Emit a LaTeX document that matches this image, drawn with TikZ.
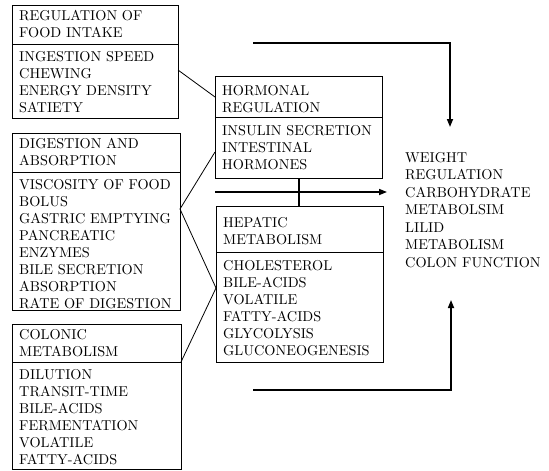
\documentclass[tikz,border=0pt]{standalone}
\usepackage{fontspec}
\setmainfont{lmroman10-regular.otf}
\usetikzlibrary{arrows.meta}
\begin{document}
\begin{tikzpicture}[x=1pt,y=-1pt,
  box/.style={draw, line width=0.9pt, anchor=north west, inner sep=0pt, outer sep=0pt},
  divider/.style={line width=0.9pt},
  txt/.style={anchor=north west, inner sep=0pt, align=left, font=\fontsize{14.3}{17}\selectfont},
  outtxt/.style={anchor=north west, inner sep=0pt, align=left, font=\fontsize{14.3}{17.5}\selectfont},
  lnk/.style={line width=0.8pt},
  flow/.style={line width=1.6pt, -{Triangle[length=8pt,width=6pt]}},
]
\useasboundingbox (0,0) rectangle (549,471);
\fill[white] (0,0) rectangle (549,471);

% left boxes
\node[box, minimum width=166pt, minimum height=113pt] (b1) at (12,5) {};
\draw[divider] (b1.west |- 0,44) -- (b1.east |- 0,44);
\node[txt] (b1h) at (19,10) {REGULATION OF\\FOOD INTAKE};
\node[txt] (b1b) at (19,51) {INGESTION SPEED\\CHEWING\\ENERGY DENSITY\\SATIETY};

\node[box, minimum width=168pt, minimum height=177pt] (b2) at (12,133) {};
\draw[divider] (b2.west |- 0,172) -- (b2.east |- 0,172);
\node[txt] (b2h) at (19,138) {DIGESTION AND\\ABSORPTION};
\node[txt] (b2b) at (19,179) {VISCOSITY OF FOOD\\BOLUS\\GASTRIC EMPTYING\\PANCREATIC\\ENZYMES\\BILE SECRETION\\ABSORPTION\\RATE OF DIGESTION};

\node[box, minimum width=169pt, minimum height=145pt] (b3) at (12,324) {};
\draw[divider] (b3.west |- 0,362) -- (b3.east |- 0,362);
\node[txt] (b3h) at (19,329) {COLONIC\\METABOLISM};
\node[txt] (b3b) at (19,369) {DILUTION\\TRANSIT-TIME\\BILE-ACIDS\\FERMENTATION\\VOLATILE\\FATTY-ACIDS};

% middle boxes
\node[box, minimum width=167pt, minimum height=102pt] (hr) at (215,76) {};
\draw[divider] (hr.west |- 0,117) -- (hr.east |- 0,117);
\node[txt] (hrh) at (222,85) {HORMONAL\\REGULATION};
\node[txt] (hrb) at (222,125) {INSULIN SECRETION\\INTESTINAL\\HORMONES};

\node[box, minimum width=167pt, minimum height=156pt] (hp) at (216,206) {};
\draw[divider] (hp.west |- 0,252) -- (hp.east |- 0,252);
\node[txt] (hph) at (223,217) {HEPATIC\\METABOLISM};
\node[txt] (hpb) at (223,260) {CHOLESTEROL\\BILE-ACIDS\\VOLATILE\\FATTY-ACIDS\\GLYCOLYSIS\\GLUCONEOGENESIS};

% outcome text
\node[outtxt] (out) at (405,152) {WEIGHT\\REGULATION\\CARBOHYDRATE\\METABOLSIM\\LILID\\METABOLISM\\COLON FUNCTION};

% connectors
\draw[lnk] (b1.east |- 0,70) -- (hr.west |- 0,97);
\draw[lnk] (b2.east |- 0,209) -- (hr.west |- 0,152);
\draw[lnk] (b2.east |- 0,209) -- (hp.west |- 0,288);
\draw[lnk] (b3.east |- 0,362) -- (hp.west |- 0,288);
\draw[line width=1.3pt] (hr.south -| 299,0) -- (hp.north -| 299,0);

\coordinate (midtip) at (387,192);
\draw[flow] (hr.west |- 0,192) -- (midtip);

\coordinate (topstart) at (253,43);
\coordinate (toptip) at (450,127);
\draw[flow] (topstart) -| (toptip);

\coordinate (botstart) at (253,390);
\coordinate (bottip) at (451,300);
\draw[flow] (botstart) -| (bottip);
\end{tikzpicture}
\end{document}
